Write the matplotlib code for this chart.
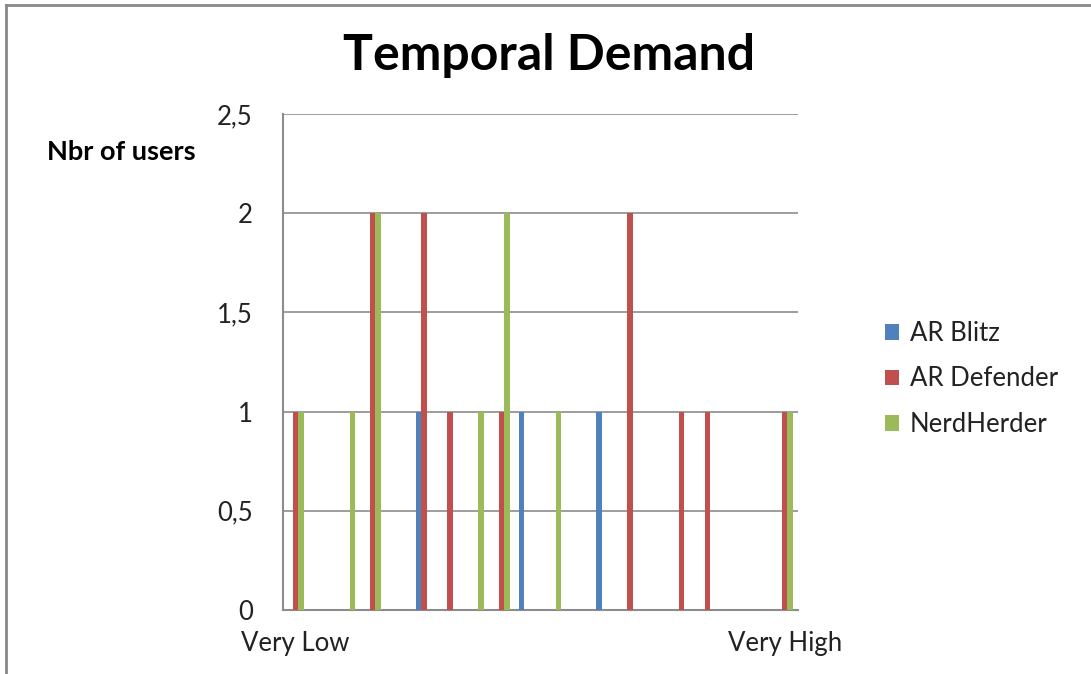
import matplotlib
matplotlib.use("Agg")
import matplotlib.pyplot as plt
import numpy as np
from matplotlib.lines import Line2D

plt.rcParams['font.family'] = ['Lato', 'DejaVu Sans']

# 20 rating steps, only both ends are labelled
n_steps = 20
tick_labels = ["Very Low"] + [""] * (n_steps - 2) + ["Very High"]

series = ["AR Blitz", "AR Defender", "NerdHerder"]
colors = ["#4F81BD", "#C0504D", "#9BBB59"]

ar_blitz = [0, 0, 0, 0, 0, 1, 0, 0, 0, 1, 0, 0, 1, 0, 0, 0, 0, 0, 0, 0]
ar_defender = [1, 0, 0, 2, 0, 2, 1, 0, 1, 0, 0, 0, 0, 2, 0, 1, 1, 0, 0, 1]
nerdherder = [1, 0, 1, 2, 0, 0, 0, 1, 2, 0, 1, 0, 0, 0, 0, 0, 0, 0, 0, 1]
values = [ar_blitz, ar_defender, nerdherder]

fig = plt.figure(figsize=(10.91, 6.74), dpi=100)
ax = fig.add_axes([282.5 / 1091, 64 / 674, 515 / 1091, 496 / 674])

x = np.arange(n_steps)
bw = 0.214
for k, (name, vals, c) in enumerate(zip(series, values, colors)):
    ax.bar(x + (k - 1) * bw, vals, width=bw, color=c, label=name, zorder=3)

ax.set_xlim(-0.5, n_steps - 0.5)
ax.set_ylim(0, 2.5)
ax.set_yticks([0, 0.5, 1, 1.5, 2, 2.5])
ax.set_yticklabels(["0", "0,5", "1", "1,5", "2", "2,5"], fontsize=18.5, color="#222222")
ax.set_xticks(x)
ax.set_xticklabels(tick_labels, fontsize=18.5, color="#222222")
ax.tick_params(axis='y', length=0, pad=21.5)
ax.tick_params(axis='x', length=0, pad=15)
ax.grid(axis='y', color="#8c8c8c", linewidth=1.2, zorder=0)
for s in ["top", "right"]:
    ax.spines[s].set_visible(False)
for s in ["left", "bottom"]:
    ax.spines[s].set_color("#8c8c8c")
    ax.spines[s].set_linewidth(1.5)

fig.text(549 / 1091, 1 - 56 / 674, "Temporal Demand", fontsize=36, fontweight="bold",
         ha="center", va="center")
fig.text(47 / 1091, 1 - 152 / 674, "Nbr of users", fontsize=19.5, fontweight="bold",
         ha="left", va="center")

leg = ax.legend(loc="center left", bbox_to_anchor=(862 / 1091, 1 - 379 / 674),
                bbox_transform=fig.transFigure, frameon=False, fontsize=18.5,
                handlelength=0.55, handleheight=0.55, handletextpad=0.4, labelspacing=0.8)
for t in leg.get_texts():
    t.set_color("#222222")

# outer chart border (top and left edges visible)
fig.add_artist(Line2D([6 / 1091, 1], [1 - 5 / 674, 1 - 5 / 674], color="#888888",
                      linewidth=2, transform=fig.transFigure))
fig.add_artist(Line2D([6 / 1091, 6 / 1091], [0, 1 - 5 / 674], color="#888888",
                      linewidth=2, transform=fig.transFigure))

fig.savefig("out.png", dpi=100)
